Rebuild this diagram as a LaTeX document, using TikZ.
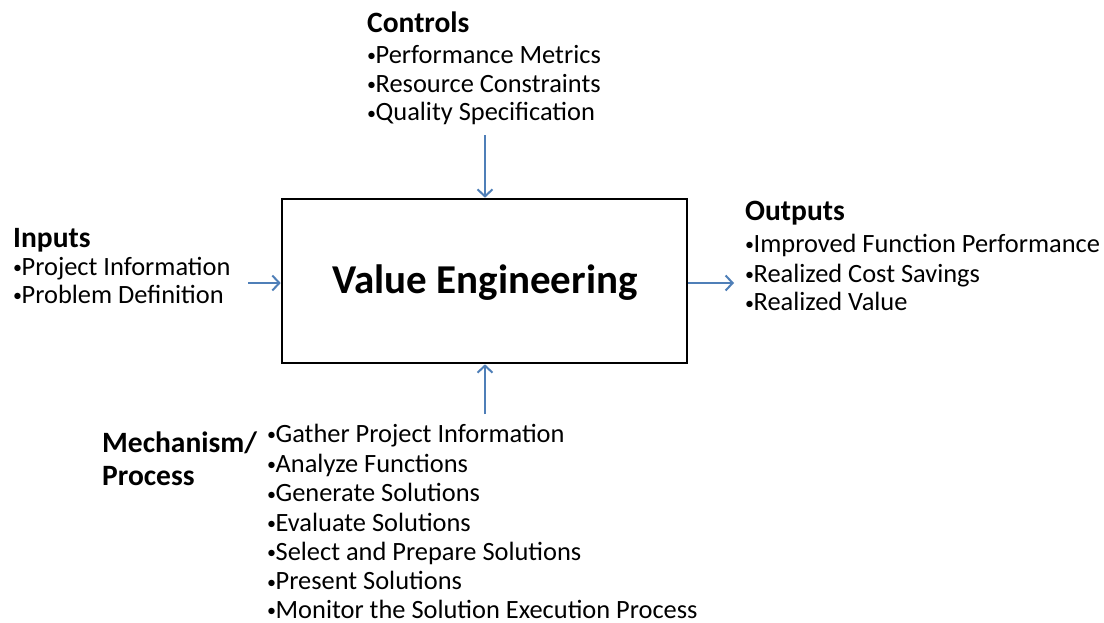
\documentclass[tikz,border=0pt]{standalone}
\usepackage{fontspec}
\setmainfont{Carlito}
\usetikzlibrary{arrows.meta}
\definecolor{arrowblue}{HTML}{4F7FB8}
\newcommand\bul{{\fontsize{18pt}{18pt}\selectfont\raisebox{0.12ex}{•}}\kern-0.5pt}
\tikzset{
  item/.style={anchor=base west, inner sep=0pt, font=\fontsize{26.4pt}{30pt}\selectfont},
  head/.style={anchor=base west, inner sep=0pt, font=\fontsize{29.5pt}{34pt}\selectfont\bfseries},
  flow/.style={draw=arrowblue, line width=2pt, -{Straight Barb[length=7pt,width=15pt]}},
  mainbox/.style={draw=black, line width=2.6pt, minimum width=405pt, minimum height=164pt, inner sep=0pt},
  title/.style={anchor=base, inner sep=0pt, font=\fontsize{41pt}{46pt}\selectfont\bfseries}
}
\begin{document}
\begin{tikzpicture}[x=1pt,y=-1pt]
\useasboundingbox (0,0) rectangle (1104,622);
\fill[white] (0,0) rectangle (1104,622);
% main box
\node[mainbox] (ve) at (484.5,281) {};
\node[title] (vet) at (485,293) {Value Engineering};
% controls
\node[head] (ctl) at (367,32) {Controls};
\node[item] (c1) at (367,63) {\bul Performance Metrics};
\node[item] (c2) at (367,92) {\bul Resource Constraints};
\node[item] (c3) at (367,120.5) {\bul Quality Specification};
% inputs
\node[head] (inp) at (13,247) {Inputs};
\node[item] (i1) at (13,275) {\bul Project Information};
\node[item] (i2) at (13,303) {\bul Problem Definition};
% outputs
\node[head] (out) at (745,220) {Outputs};
\node[item] (o1) at (745,252) {\bul Improved Function Performance};
\node[item] (o2) at (745,282) {\bul Realized Cost Savings};
\node[item] (o3) at (745,310.5) {\bul Realized Value};
% mechanism
\node[head] (mech) at (102,452) {Mechanism/};
\node[head] (proc) at (102,485) {Process};
\node[item] (m1) at (267,442) {\bul Gather Project Information};
\node[item] (m2) at (267,472) {\bul Analyze Functions};
\node[item] (m3) at (267,501.5) {\bul Generate Solutions};
\node[item] (m4) at (267,531) {\bul Evaluate Solutions};
\node[item] (m5) at (267,560) {\bul Select and Prepare Solutions};
\node[item] (m6) at (267,589.5) {\bul Present Solutions};
\node[item] (m7) at (267,618) {\bul Monitor the Solution Execution Process};
% arrow endpoints
\coordinate (ctop) at (485,135);
\coordinate (lin) at (248,283);
\coordinate (rout) at (734,283);
\coordinate (mbot) at (485,414);
\draw[flow] (ctop) -- (ve.north -| ctop);
\draw[flow] (lin) -- (ve.west |- lin);
\draw[flow] (ve.east |- rout) -- (rout);
\draw[flow] (mbot) -- (ve.south -| mbot);
\end{tikzpicture}
\end{document}
